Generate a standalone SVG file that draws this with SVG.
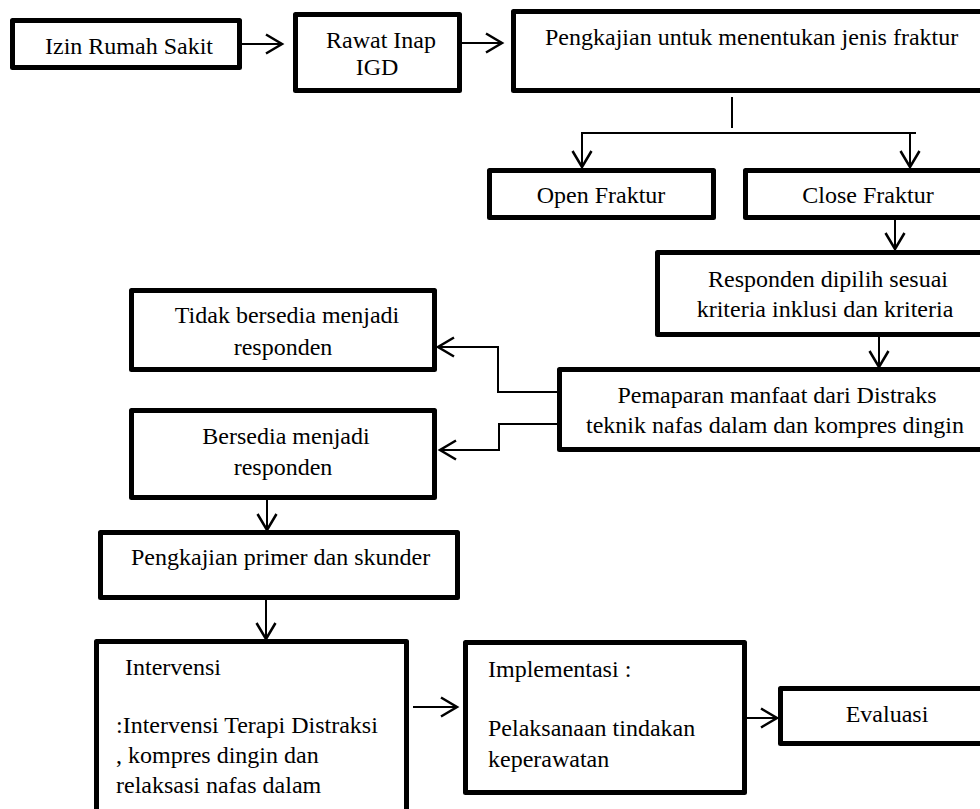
<svg xmlns="http://www.w3.org/2000/svg" width="980" height="809" viewBox="0 0 980 809">
<style>
.box{fill:#fff;stroke:#000;stroke-width:5;stroke-linejoin:round}
.t{font-family:"Liberation Serif","Times New Roman",serif;font-size:24px;fill:#000}
.m{text-anchor:middle}
.c{fill:none;stroke:#000;stroke-width:2}
</style>
<defs>
<marker id="ah" markerUnits="userSpaceOnUse" markerWidth="24" markerHeight="24" viewBox="-20 -12 24 24" refX="0" refY="0" orient="auto" overflow="visible">
<path d="M-16,-9.5 L0,0 L-16,9.5" fill="none" stroke="#000" stroke-width="2.5"/>
</marker>
</defs>
<rect width="980" height="809" fill="#fff"/>
<g id="connectors">
<line class="c" x1="242" y1="44" x2="282" y2="44" marker-end="url(#ah)"/>
<line class="c" x1="462" y1="43" x2="502" y2="43" marker-end="url(#ah)"/>
<line class="c" x1="732" y1="97" x2="732" y2="128"/>
<line class="c" x1="581" y1="133" x2="916" y2="133"/>
<line class="c" x1="582" y1="133" x2="582" y2="167" marker-end="url(#ah)"/>
<line class="c" x1="910" y1="133" x2="910" y2="167" marker-end="url(#ah)"/>
<line class="c" x1="895" y1="220" x2="895" y2="249" marker-end="url(#ah)"/>
<line class="c" x1="879" y1="337" x2="879" y2="367" marker-end="url(#ah)"/>
<polyline class="c" points="557,392 498,392 498,347 438,347" marker-end="url(#ah)"/>
<polyline class="c" points="557,424 499,424 499,450 440,450" marker-end="url(#ah)"/>
<line class="c" x1="267" y1="500" x2="267" y2="530" marker-end="url(#ah)"/>
<line class="c" x1="266" y1="600" x2="266" y2="639" marker-end="url(#ah)"/>
<line class="c" x1="413" y1="707" x2="457" y2="707" marker-end="url(#ah)"/>
<line class="c" x1="740" y1="718" x2="777" y2="718" marker-end="url(#ah)"/>
</g>
<g id="izin">
<rect class="box" x="12.5" y="20.5" width="227" height="47"/>
<text class="t" x="45" y="54">Izin Rumah Sakit</text>
</g>
<g id="rawat">
<rect class="box" x="295.5" y="14.5" width="164" height="76"/>
<text class="t m" x="381" y="48">Rawat Inap</text>
<text class="t m" x="377" y="75">IGD</text>
</g>
<g id="pengkajian-jenis">
<rect class="box" x="513.5" y="11.5" width="480" height="79"/>
<text class="t" x="545" y="45">Pengkajian untuk menentukan jenis fraktur</text>
</g>
<g id="open">
<rect class="box" x="489.5" y="170.5" width="224" height="47"/>
<text class="t m" x="601" y="203">Open Fraktur</text>
</g>
<g id="close">
<rect class="box" x="745.5" y="170.5" width="250" height="47"/>
<text class="t m" x="868" y="203">Close Fraktur</text>
</g>
<g id="responden">
<rect class="box" x="657.5" y="252.5" width="340" height="82"/>
<text class="t m" x="828" y="287">Responden dipilih sesuai</text>
<text class="t m" x="825" y="317">kriteria inklusi dan kriteria</text>
</g>
<g id="pemaparan">
<rect class="box" x="559.5" y="369.5" width="440" height="80"/>
<text class="t m" x="777" y="403">Pemaparan manfaat dari Distraks</text>
<text class="t m" x="775" y="433">teknik nafas dalam dan kompres dingin</text>
</g>
<g id="tidak">
<rect class="box" x="131.5" y="290.5" width="303" height="79"/>
<text class="t m" x="287" y="323">Tidak bersedia menjadi</text>
<text class="t m" x="283" y="355">responden</text>
</g>
<g id="bersedia">
<rect class="box" x="131.5" y="410.5" width="303" height="87"/>
<text class="t m" x="286" y="444">Bersedia menjadi</text>
<text class="t m" x="283" y="475">responden</text>
</g>
<g id="primer">
<rect class="box" x="100.5" y="532.5" width="357" height="65"/>
<text class="t" x="131" y="565">Pengkajian primer dan skunder</text>
</g>
<g id="intervensi">
<rect class="box" x="96.5" y="641.5" width="310" height="200"/>
<text class="t" x="125" y="675">Intervensi</text>
<text class="t" x="116" y="733">:Intervensi Terapi Distraksi</text>
<text class="t" x="116" y="763">, kompres dingin dan</text>
<text class="t" x="116" y="793">relaksasi nafas dalam</text>
</g>
<g id="implementasi">
<rect class="box" x="465.5" y="642.5" width="279" height="150"/>
<text class="t" x="488" y="677">Implementasi :</text>
<text class="t" x="488" y="736">Pelaksanaan tindakan</text>
<text class="t" x="488" y="767">keperawatan</text>
</g>
<g id="evaluasi">
<rect class="box" x="780.5" y="688.5" width="220" height="55"/>
<text class="t m" x="887" y="722">Evaluasi</text>
</g>
</svg>
